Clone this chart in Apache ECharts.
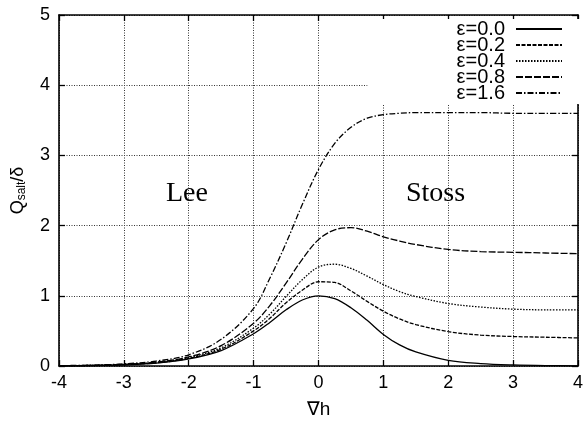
<!DOCTYPE html>
<html>
<head>
<meta charset="utf-8">
<script src="https://cdn.jsdelivr.net/npm/echarts@6/dist/echarts.min.js"></script>
<style>html,body{margin:0;padding:0;background:#fff;}#c{width:586px;height:424px;}</style>
</head>
<body>
<div id="c"></div>
<script>
var xs = [-4,-3.5,-3,-2.5,-2,-1.5,-1,-0.75,-0.5,-0.25,0,0.25,0.5,0.75,1,1.25,1.5,2,2.5,3,3.5,4];
var eps00 = [0.002,0.005,0.015,0.04,0.1,0.22,0.46,0.62,0.8,0.94,1.0,0.96,0.83,0.65,0.45,0.3,0.2,0.08,0.035,0.015,0.006,0.003];
var eps02 = [0.003,0.007,0.02,0.045,0.11,0.24,0.5,0.68,0.9,1.08,1.2,1.19,1.07,0.92,0.78,0.67,0.59,0.49,0.44,0.42,0.41,0.4];
var eps04 = [0.003,0.008,0.02,0.05,0.12,0.26,0.54,0.74,0.99,1.23,1.41,1.45,1.39,1.28,1.16,1.06,0.99,0.89,0.84,0.81,0.8,0.8];
var eps08 = [0.004,0.009,0.024,0.055,0.13,0.29,0.61,0.86,1.18,1.52,1.8,1.94,1.97,1.92,1.84,1.78,1.73,1.66,1.63,1.62,1.61,1.6];
var eps16 = [0.005,0.012,0.03,0.07,0.16,0.38,0.82,1.25,1.75,2.3,2.8,3.17,3.4,3.53,3.58,3.6,3.61,3.61,3.61,3.6,3.6,3.6];
var names = ['ε=0.0','ε=0.2','ε=0.4','ε=0.8','ε=1.6'];
var values = [eps00, eps02, eps04, eps08, eps16];
var dashes = ['solid',[4,1.5],[1.5,1.5],[7,2],[6,2,1.5,2]];

function pairs(v){ return xs.map(function(x,i){ return [x, v[i]]; }); }

var sans = 'Liberation Sans, Arial, sans-serif';
var serif = 'Liberation Serif, Times New Roman, serif';

var series = names.map(function(n,i){
  return {
    name: n, type: 'line', data: pairs(values[i]), smooth: 0.35,
    showSymbol: false, symbol: 'none',
    itemStyle: {color: '#000', opacity: 0},
    lineStyle: {color: '#000', width: 1.3, type: dashes[i], opacity: 1},
    z: 6
  };
});

function axisCommon(extra){
  var o = {
    type: 'value',
    axisLine: {show: true, onZero: false, lineStyle: {color: '#000', width: 1.6}},
    axisTick: {show: true, inside: true, length: 6, lineStyle: {color: '#000', width: 1.3}},
    splitLine: {show: false}
  };
  for (var k in extra) o[k] = extra[k];
  return o;
}

var grid = {show: true, lineStyle: {color: '#333', type: [1, 1.5], width: 1}};

var chart = echarts.init(document.getElementById('c'), null, {renderer: 'canvas'});
chart.setOption({
  animation: false,
  backgroundColor: '#fff',
  grid: {left: 59, right: 4, top: 15, bottom: 55, containLabel: false},
  legend: {
    data: names, orient: 'vertical', align: 'right',
    right: 5, top: 19,
    padding: [0, 18, 1, 89],
    itemWidth: 46, itemHeight: 14, itemGap: -4,
    backgroundColor: '#fff',
    itemStyle: {opacity: 0, borderWidth: 0},
    textStyle: {fontFamily: sans, fontSize: 20, color: '#000', lineHeight: 16, padding: [0, 6, 0, 0]},
    z: 5
  },
  xAxis: [
    axisCommon({min: -4, max: 4, interval: 1, position: 'bottom',
      name: '∇h', nameLocation: 'middle', nameGap: 34,
      nameTextStyle: {fontFamily: sans, fontSize: 19, color: '#000'},
      axisLabel: {fontFamily: sans, fontSize: 18, color: '#000', margin: 8},
      splitLine: grid}),
    axisCommon({min: -4, max: 4, interval: 1, position: 'top', axisLabel: {show: false}})
  ],
  yAxis: [
    axisCommon({min: 0, max: 5, interval: 1, position: 'left',
      name: '{a|Q}{s|salt}{a|/δ}', nameLocation: 'middle', nameGap: 31, nameRotate: 90,
      nameTextStyle: {rich: {
        a: {fontFamily: sans, fontSize: 18, color: '#000'},
        s: {fontFamily: sans, fontSize: 12, color: '#000', verticalAlign: 'bottom', padding: [7, 0, 0, 0]}
      }},
      axisLabel: {fontFamily: sans, fontSize: 18, color: '#000', margin: 9},
      splitLine: grid}),
    axisCommon({min: 0, max: 5, interval: 1, position: 'right', axisLabel: {show: false}})
  ],
  graphic: [
    {type: 'text', left: 166, top: 180, style: {text: 'Lee', font: '28px ' + serif, fill: '#000'}, z: 10},
    {type: 'text', left: 406, top: 180, style: {text: 'Stoss', font: '28px ' + serif, fill: '#000'}, z: 10}
  ],
  series: series
});
</script>
</body>
</html>
